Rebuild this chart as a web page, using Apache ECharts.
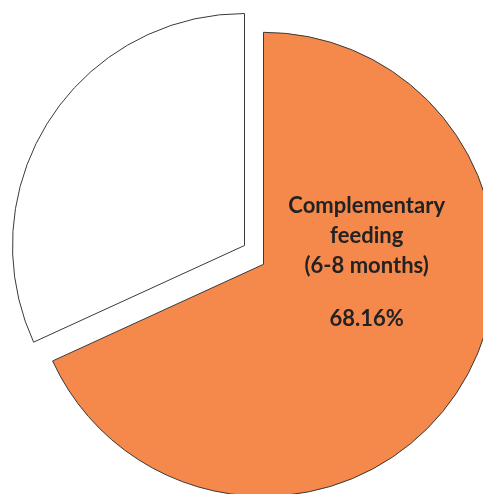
<!DOCTYPE html>
<html>
<head>
<meta charset="utf-8">
<style>
  html, body { margin: 0; padding: 0; background: #ffffff; }
  #chart { width: 483px; height: 494px; }
</style>
<script src="https://cdn.jsdelivr.net/npm/echarts@6/dist/echarts.min.js"></script>
</head>
<body>
<div id="chart"></div>
<script>
// Share of feeding stages
const categories = ['Complementary\nfeeding\n(6-8 months)', 'Other'];
const shares = [68.16, 31.84];
const fills = ['#F5884B', '#FFFFFF'];

const chart = echarts.init(document.getElementById('chart'), null, { renderer: 'canvas' });

const R = 232;

function wedgeLabel(p) {
  const nameLines = p.name.split('\n').map(s => '{t|' + s + '}');
  return nameLines.join('\n') + '\n{g| }\n{t|' + p.value.toFixed(2) + '%}';
}

// Each wedge is drawn by its own series so the white wedge can sit pulled out from the centre.
function wedgeSeries(visibleIndex, center) {
  return {
    type: 'pie',
    silent: true,
    center: center,
    radius: [0, R],
    startAngle: 90,
    clockwise: true,
    avoidLabelOverlap: false,
    data: categories.map((name, i) => ({
      name: name,
      value: shares[i],
      itemStyle: i === visibleIndex
        ? { color: fills[i], borderColor: '#3a3a3a', borderWidth: 1 }
        : { color: 'rgba(0,0,0,0)', borderWidth: 0 },
      label: {
        show: i === visibleIndex && i === 0,
        position: 'inside',
        formatter: wedgeLabel,
        align: 'center',
        rich: {
          t: {
            fontFamily: 'Lato',
            fontWeight: 'bold',
            fontSize: 22,
            lineHeight: 30,
            color: '#222222',
            align: 'center'
          },
          g: { fontSize: 10, lineHeight: 23 }
        }
      },
      labelLine: { show: false }
    })),
    labelLayout: { dx: 3, dy: -66 }
  };
}

chart.setOption({
  animation: false,
  backgroundColor: '#ffffff',
  series: [
    wedgeSeries(0, [263.5, 264.3]),
    wedgeSeries(1, [244.5, 245.5])
  ]
});
</script>
</body>
</html>
